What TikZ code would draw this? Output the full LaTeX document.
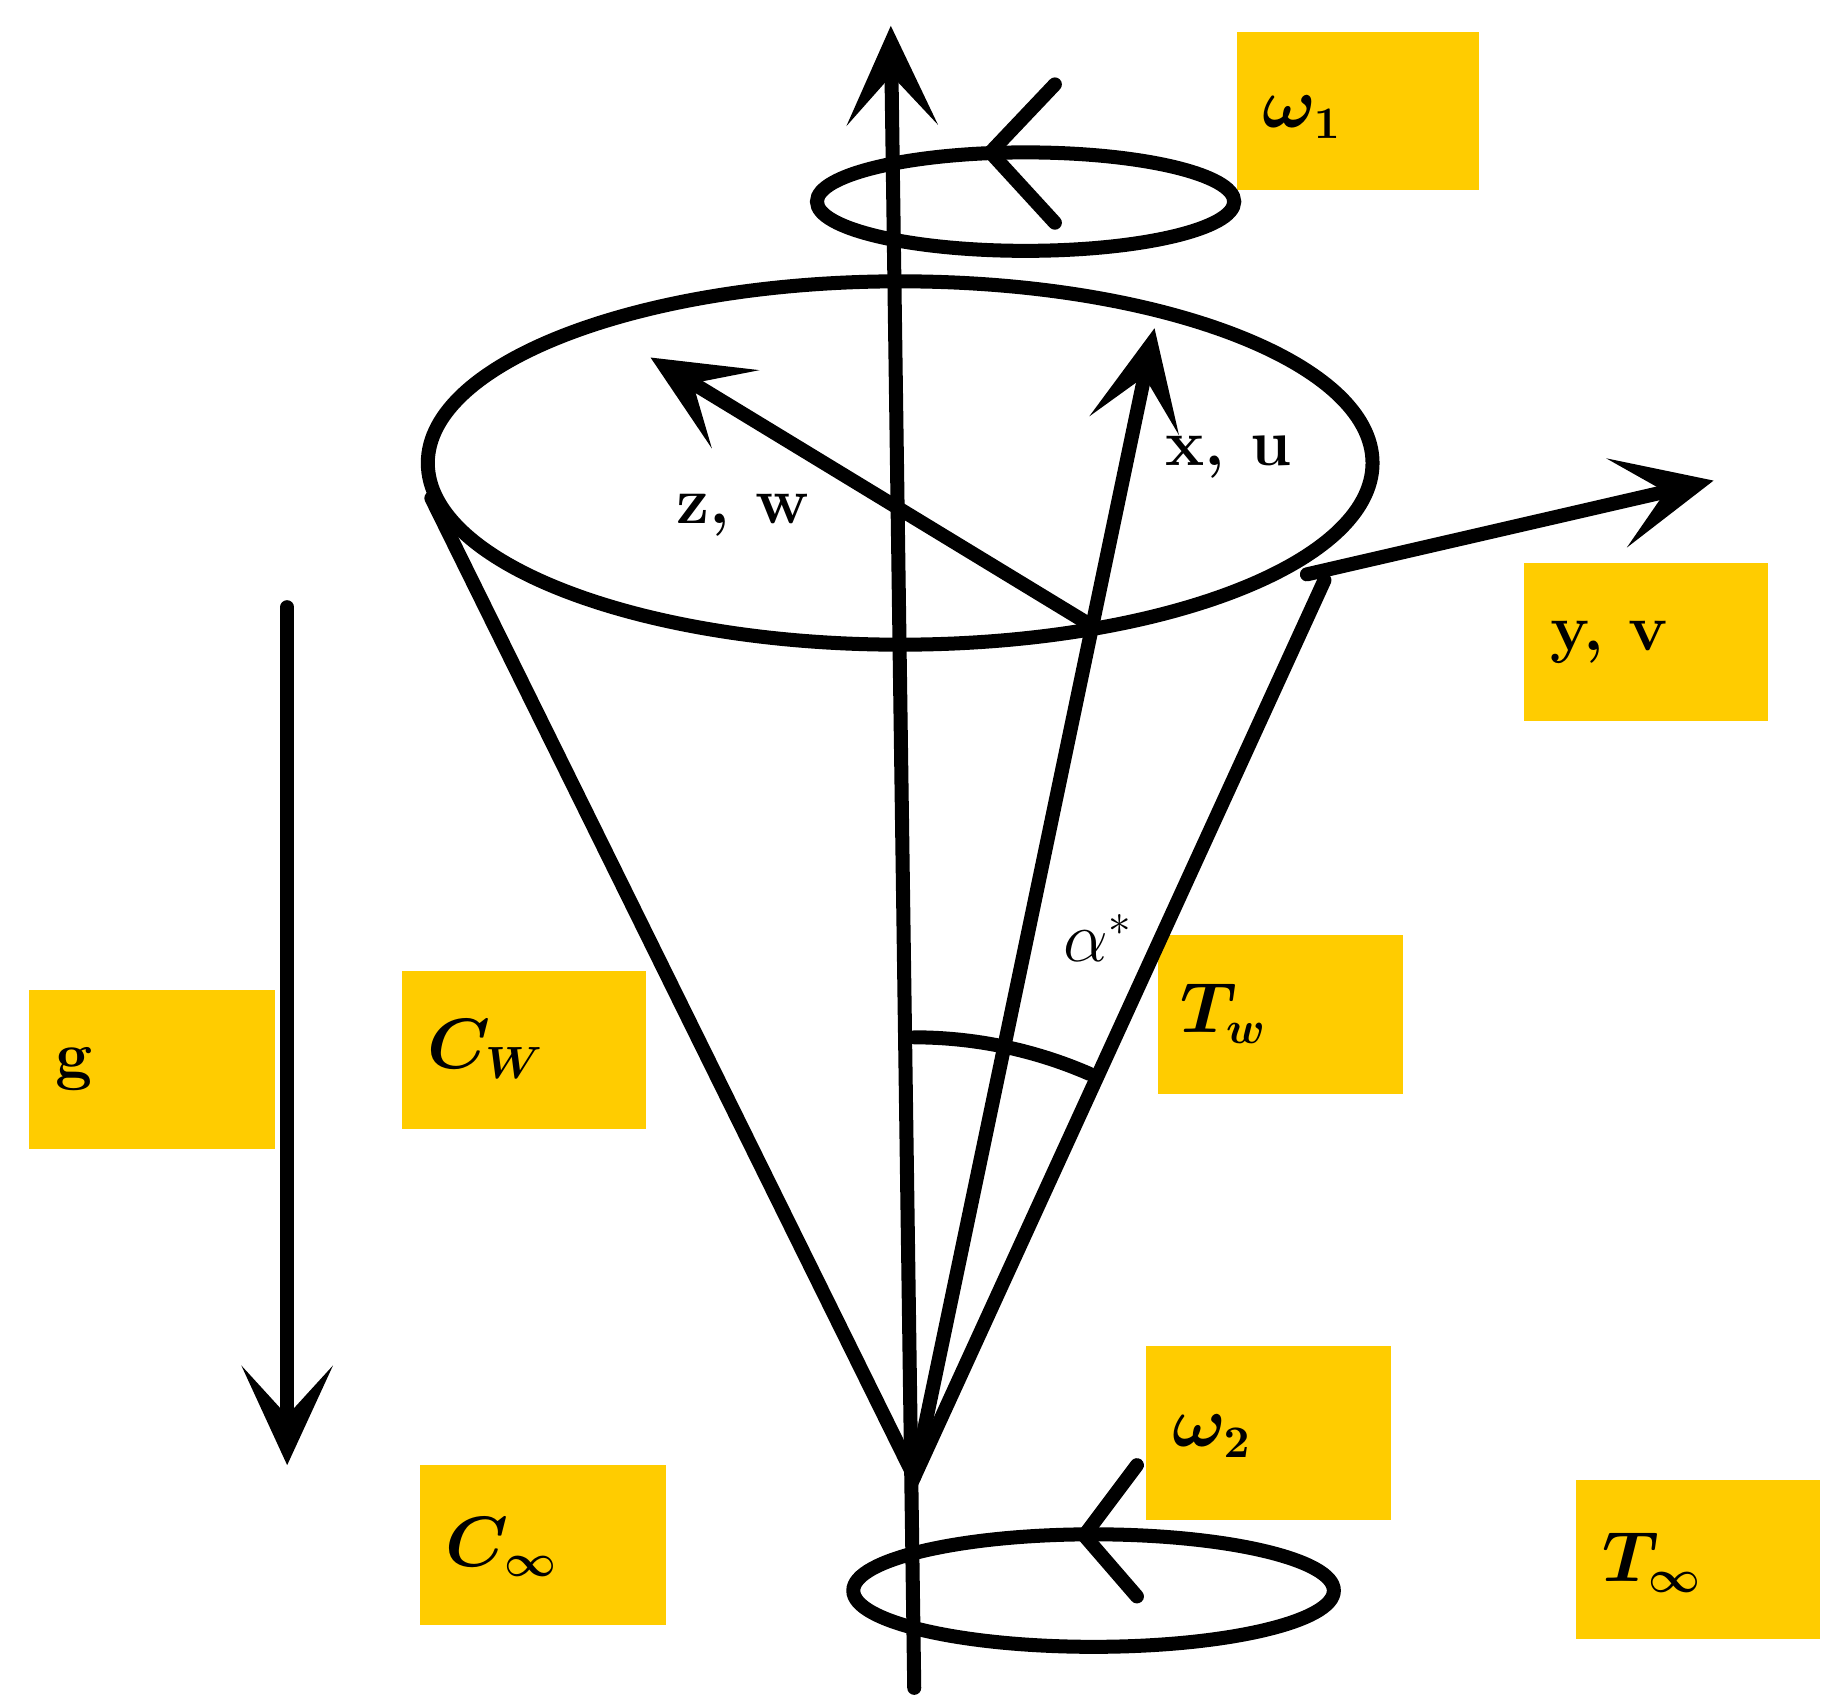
\documentclass[tikz,border=0pt]{standalone}
\usepackage{bm}
\usetikzlibrary{arrows.meta}
\definecolor{gold}{HTML}{FFCC00}
\begin{document}
\begin{tikzpicture}[x=0.01cm,y=-0.01cm,
  ln/.style={line width=3.4pt,line cap=round},
  arr/.style={ln,-{Stealth[length=24pt,width=22pt,inset=12pt]}},
  box/.style={fill=gold,draw=none},
  lab/.style={font=\fontsize{16}{18}\selectfont\bfseries,anchor=west}]
\useasboundingbox (0,0) rectangle (1563,1450);
% boxes
\fill[box] (1055,27) rectangle (1262,162);
\fill[box] (1300,480) rectangle (1508,615);
\fill[box] (988,798) rectangle (1197,933);
\fill[box] (343,828) rectangle (551,963);
\fill[box] (25,845) rectangle (235,980);
\fill[box] (978,1148) rectangle (1187,1297);
\fill[box] (358,1250) rectangle (568,1386);
\fill[box] (1345,1263) rectangle (1553,1398);
\node[lab] (w1) at (1065,100) {$\bm{\omega_1}$};
\node[lab] (yv) at (1310,548) {y, v};
\node[lab] (tw) at (995,865) {$\bm{T_w}$};
\node[lab] (cw) at (352,895) {$\bm{C_W}$};
\node[lab] (gl) at (35,912) {g};
\node[lab] (w2) at (988,1225) {$\bm{\omega_2}$};
\node[lab] (ci) at (368,1320) {$\bm{C_\infty}$};
\node[lab] (ti) at (1355,1333) {$\bm{T_\infty}$};
\node[lab] (zw) at (565,440) {z, w};
\node[lab] (xu) at (982,390) {x, u};
\node[lab] (al) at (895,800) {$\alpha^*$};
% coordinates
\coordinate (apex) at (780,1260);
\coordinate (bot) at (780,1440);
\coordinate (top) at (760,22);
\coordinate (cl) at (368,425);
\coordinate (cr) at (1130,495);
\coordinate (o) at (925,530);
% ellipses
\draw[ln] (768,395) ellipse [x radius=403,y radius=155];
\draw[ln] (875,172) ellipse [x radius=178,y radius=42];
\draw[ln] (933,1357) ellipse [x radius=205,y radius=48];
% axis
\draw[arr] (bot) -- (top);
% cone
\draw[ln] (cl) -- (apex) -- (cr);
% vectors
\draw[arr] (o) -- (555,305);
\draw[arr] (apex) -- (985,280);
\draw[arr] (1115,490) -- (1462,410);
\draw[arr] (245,518) -- (245,1250);
% rotation arrows
\coordinate (r1) at (845,130);
\coordinate (r2) at (925,1310);
\draw[ln] (r1) ++(55,-58) -- (r1) -- ++(55,60);
\draw[ln] (r2) ++(45,-60) -- (r2) -- ++(45,52);
% angle arc
\draw[ln] (apex) ++(-90:375) arc[start angle=-90,end angle=-66.5,radius=375];
\end{tikzpicture}
\end{document}
